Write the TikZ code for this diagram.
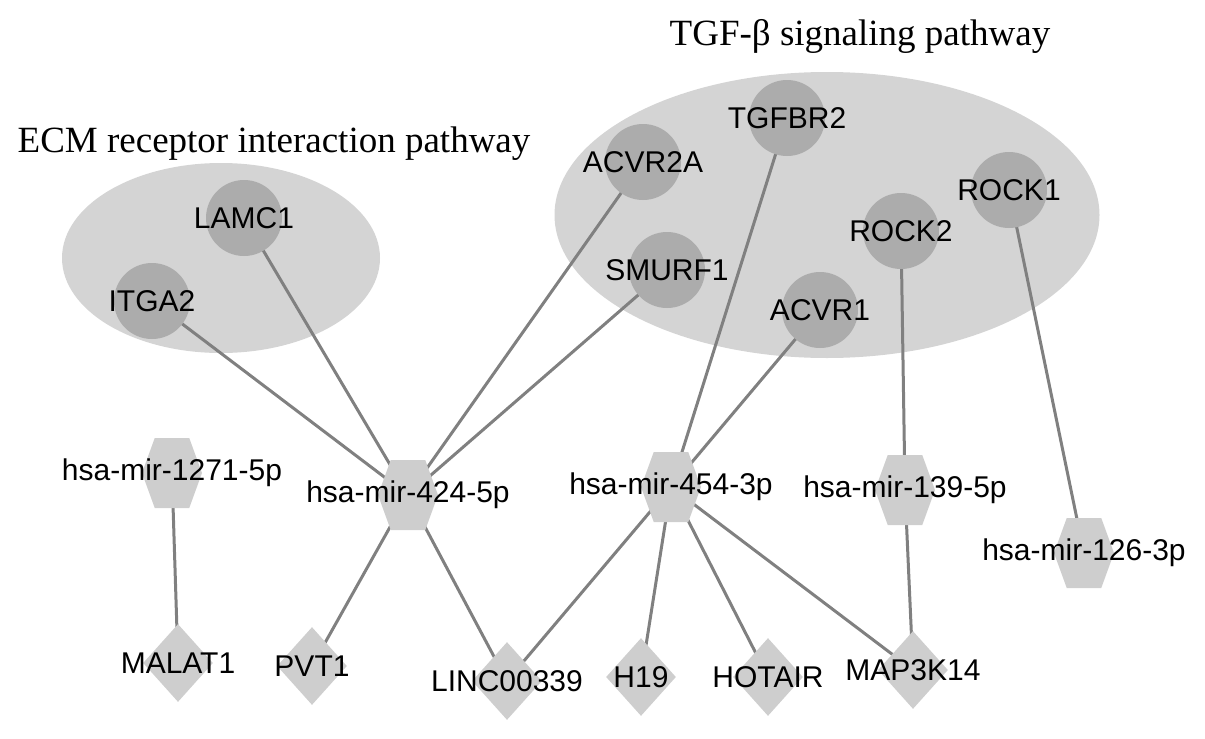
\documentclass[tikz,border=0pt]{standalone}
\usepackage{fontspec}
\setmainfont{Liberation Serif}
\newfontfamily\labelfont{Liberation Sans}
\usepackage{tikz}
\usetikzlibrary{shapes, positioning}
\definecolor{ellgray}{RGB}{212,212,212}
\definecolor{genegray}{RGB}{172,172,172}
\definecolor{nodegray}{RGB}{206,206,206}
\definecolor{edgegray}{RGB}{128,128,128}
\pgfdeclarelayer{back}
\pgfdeclarelayer{links}
\pgfsetlayers{back,links,main}

\begin{document}
\begin{tikzpicture}[x=0.5pt, y=-0.5pt]
			\tikzstyle{gene}=[circle, draw=none, fill=genegray, minimum size=38pt, inner sep=0pt]
			\tikzstyle{mirna}=[signal, signal to=east and west, signal pointer angle=140, draw=none, fill=nodegray, minimum width=30pt, minimum height=35pt, inner sep=0pt]
			\tikzstyle{lnc}=[diamond, draw=none, fill=nodegray, minimum width=35pt, minimum height=39pt, inner sep=0pt]
			\tikzstyle{txt}=[font=\labelfont\fontsize{15}{18}\selectfont, text=black, inner sep=0pt]
			\tikzstyle{group}=[ellipse, draw=none, fill=ellgray]
			\tikzstyle{grouptitle}=[font=\fontsize{18.5}{22}\selectfont, anchor=base, inner sep=0pt]
			\tikzstyle{link}=[draw=edgegray, line width=1.5pt]
			%%
			\useasboundingbox (0,0) rectangle (1205,739);
			
			%% pathways
			\begin{pgfonlayer}{back}
			\node (ecm) at (221,258) [group, minimum width=159pt, minimum height=95pt] {};
			\node (tgf) at (827,215) [group, minimum width=272.5pt, minimum height=143pt] {};
			\end{pgfonlayer}
			\node (tecm) at (274,152) [grouptitle] {ECM receptor interaction pathway};
			\node (ttgf) at (860,46) [grouptitle] {TGF-β signaling pathway};
			
			%% genes
			\node (lamc1) at (244,218) [gene, label={[txt]center:LAMC1}] {};
			\node (itga2) at (152,301) [gene, label={[txt]center:ITGA2}] {};
			\node (acvr2a) at (643,162) [gene, label={[txt]center:ACVR2A}] {};
			\node (tgfbr2) at (787,118) [gene, label={[txt]center:TGFBR2}] {};
			\node (smurf1) at (667,270) [gene, label={[txt]center:SMURF1}] {};
			\node (rock1) at (1009,190) [gene, label={[txt]center:ROCK1}] {};
			\node (rock2) at (901,231) [gene, label={[txt]center:ROCK2}] {};
			\node (acvr1) at (820,310) [gene, label={[txt]center:ACVR1}] {};
			
			%% miRNAs
			\node (m1271) at (172,473) [mirna, label={[txt]center:hsa-mir-1271-5p}] {};
			\node (m424) at (408,495) [mirna, label={[txt]center:hsa-mir-424-5p}] {};
			\node (m454) at (671,487) [mirna, label={[txt]center:hsa-mir-454-3p}] {};
			\node (m139) at (905,490) [mirna, label={[txt]center:hsa-mir-139-5p}] {};
			\node (m126) at (1084,553) [mirna, label={[txt]center:hsa-mir-126-3p}] {};
			
			%% lncRNAs
			\node (malat1) at (178,663) [lnc, label={[txt]center:MALAT1}] {};
			\node (pvt1) at (312,666) [lnc, label={[txt]center:PVT1}] {};
			\node (linc) at (507,681) [lnc, label={[txt]center:LINC00339}] {};
			\node (h19) at (641,677) [lnc, label={[txt]center:H19}] {};
			\node (hotair) at (768,677) [lnc, label={[txt]center:HOTAIR}] {};
			\node (map3k14) at (913,670) [lnc, label={[txt]center:MAP3K14}] {};
			
			\begin{pgfonlayer}{links}
			\draw [link] (itga2.center) -- (m424.center);
			\draw [link] (lamc1.center) -- (m424.center);
			\draw [link] (acvr2a.center) -- (m424.center);
			\draw [link] (smurf1.center) -- (m424.center);
			\draw [link] (tgfbr2.center) -- (m454.center);
			\draw [link] (acvr1.center) -- (m454.center);
			\draw [link] (rock2.center) -- (m139.center);
			\draw [link] (rock1.center) -- (m126.center);
			\draw [link] (m1271.center) -- (malat1.center);
			\draw [link] (m424.center) -- (pvt1.center);
			\draw [link] (m424.center) -- (linc.center);
			\draw [link] (m454.center) -- (linc.center);
			\draw [link] (m454.center) -- (h19.center);
			\draw [link] (m454.center) -- (hotair.center);
			\draw [link] (m454.center) -- (map3k14.center);
			\draw [link] (m139.center) -- (map3k14.center);
			\end{pgfonlayer}
\end{tikzpicture}
\end{document}
